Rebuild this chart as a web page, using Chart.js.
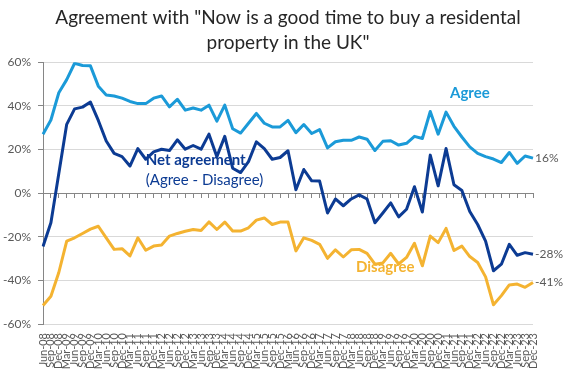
<!DOCTYPE html>
<html>
<head>
<meta charset="utf-8">
<script src="https://cdn.jsdelivr.net/npm/chart.js@4.4.0/dist/chart.umd.min.js"></script>
<style>
  html, body { margin: 0; padding: 0; background: #fff; }
</style>
</head>
<body>
<canvas id="agreementChart" width="563" height="384"></canvas>
<script>
const quarters = [
    'Jun-08', 'Sep-08', 'Dec-08',
    'Mar-09', 'Jun-09', 'Sep-09', 'Dec-09',
    'Mar-10', 'Jun-10', 'Sep-10', 'Dec-10',
    'Mar-11', 'Jun-11', 'Sep-11', 'Dec-11',
    'Mar-12', 'Jun-12', 'Sep-12', 'Dec-12',
    'Mar-13', 'Jun-13', 'Sep-13', 'Dec-13',
    'Mar-14', 'Jun-14', 'Sep-14', 'Dec-14',
    'Mar-15', 'Jun-15', 'Sep-15', 'Dec-15',
    'Mar-16', 'Jun-16', 'Sep-16', 'Dec-16',
    'Mar-17', 'Jun-17', 'Sep-17', 'Dec-17',
    'Mar-18', 'Jun-18', 'Sep-18', 'Dec-18',
    'Mar-19', 'Jun-19', 'Sep-19', 'Dec-19',
    'Mar-20', 'Jun-20', 'Sep-20', 'Dec-20',
    'Mar-21', 'Jun-21', 'Sep-21', 'Dec-21',
    'Mar-22', 'Jun-22', 'Sep-22', 'Dec-22',
    'Mar-23', 'Jun-23', 'Sep-23', 'Dec-23'
];

const agree = [27, 33.5, 46, 52, 59.5, 58.5, 58.3, 49, 45, 44.5,
    43.5, 42, 41, 41, 43.5, 44.5, 39.5, 43, 38, 39,
    38, 40.3, 33, 40.3, 29.5, 27.5, 32, 36.5, 32, 30.3,
    30.3, 33.3, 27.7, 31.4, 27.3, 29.1, 20.7, 23.5, 24.2, 24.2,
    25.7, 24.7, 19.5, 23.7, 24, 22, 22.8, 26, 25, 37.4,
    27, 37.1, 30.6, 25.7, 21.2, 18.2, 16.7, 15.6, 14, 18.6,
    13.6, 17, 16];

const netAgreement = [-24.5, -13.6, 9, 31.5, 38.6, 39.4, 41.7, 33.3, 23.9, 18.2,
    16.7, 12.4, 20.4, 15.5, 18.9, 20.1, 19.5, 24.4, 20.1, 21.8,
    20.1, 27, 16.7, 26, 11.4, 9.4, 14.4, 23.5, 20.4, 15.5,
    16.3, 19.4, 1.5, 10.8, 5.6, 5.5, -9.1, -2.7, -5.8, -2.7,
    -0.8, -2.7, -13.6, -9.1, -4.5, -10.9, -7.4, 2.9, -8.7, 17.4,
    3.3, 20.4, 3.8, 1.2, -8.4, -14.4, -22, -35.6, -32.6, -23.5,
    -28.5, -27.3, -28];

const disagree = [-51.5, -47.3, -36.4, -22, -20.5, -18.5, -16.5, -15.2, -20.5, -25.8,
    -25.5, -28.8, -20.5, -26.2, -24.3, -23.8, -19.7, -18.5, -17.5, -16.7,
    -17.2, -13.2, -16.7, -13.3, -17.4, -17.4, -15.9, -12.4, -11.4, -14.4,
    -13.3, -13.3, -26.5, -20.5, -21.7, -23.5, -29.9, -26, -29.3, -26,
    -25.8, -27.6, -32.6, -32, -27.6, -32.5, -29.5, -23, -33.3, -19.7,
    -22.7, -16.2, -26.3, -24.3, -29.1, -31.8, -38.4, -51.2, -47, -42.1,
    -41.7, -43.2, -41];

const agreeColor = '#1b9ad8';
const netColor = '#0c3b93';
const disagreeColor = '#f4b331';
const axisColor = '#868686';
const gridColor = '#d9d9d9';
const textGrey = '#595959';

// series names written on the plot, plus the last value at the end of each line
const lineNotes = {
    id: 'lineNotes',
    afterDatasetsDraw: (chart) => {
        const ctx = chart.ctx;
        const xs = chart.scales.x;
        const ys = chart.scales.y;
        const put = (text, idx, val, font, color) => {
            ctx.font = font;
            ctx.fillStyle = color;
            ctx.fillText(text, xs.getPixelForValue(idx), ys.getPixelForValue(val));
        };
        ctx.save();
        ctx.textAlign = 'left';
        ctx.textBaseline = 'middle';
        put('Agree', 51.5, 46, 'bold 15px Lato', agreeColor);
        put('Net agreement', 13, 15.2, 'bold 15px Lato', netColor);
        put('(Agree - Disagree)', 13, 5.9, '15px Lato', netColor);
        put('Disagree', 39.6, -33.8, 'bold 15px Lato', disagreeColor);

        chart.data.datasets.forEach((ds, i) => {
            const last = ds.data.length - 1;
            const pt = chart.getDatasetMeta(i).data[last];
            ctx.font = '12px Lato';
            ctx.fillStyle = textGrey;
            ctx.fillText(Math.round(ds.data[last]) + '%', pt.x + 2, pt.y);
        });
        ctx.restore();
    }
};

const drawChart = () => {
    const ctx = document.getElementById('agreementChart').getContext('2d');
    const lineStyle = { borderWidth: 3, pointRadius: 0, tension: 0, fill: false, borderJoinStyle: 'round' };

    new Chart(ctx, {
        type: 'line',
        data: {
            labels: quarters,
            datasets: [
                Object.assign({ label: 'Agree', data: agree, borderColor: agreeColor }, lineStyle),
                Object.assign({ label: 'Net agreement', data: netAgreement, borderColor: netColor }, lineStyle),
                Object.assign({ label: 'Disagree', data: disagree, borderColor: disagreeColor }, lineStyle)
            ]
        },
        options: {
            responsive: false,
            animation: false,
            layout: { padding: { left: 0, right: 30, top: 0, bottom: 0 } },
            plugins: {
                legend: { display: false },
                tooltip: { enabled: false },
                title: {
                    display: true,
                    fullSize: false,
                    text: ['Agreement with "Now is a good time to buy a residental', 'property in the UK"'],
                    color: '#262626',
                    font: { family: 'Lato', size: 19, weight: 'normal', lineHeight: 1.32 },
                    padding: { top: 5, bottom: 7 }
                }
            },
            scales: {
                x: {
                    type: 'category',
                    position: 'bottom',
                    offset: false,
                    grid: { display: false, drawTicks: false },
                    border: { display: false },
                    ticks: {
                        autoSkip: false,
                        minRotation: 90,
                        maxRotation: 90,
                        padding: 9,
                        color: textGrey,
                        font: { family: 'Lato', size: 11 }
                    },
                    afterFit: (s) => { s.height = 60; }
                },
                xZero: {
                    type: 'category',
                    axis: 'x',
                    labels: quarters,
                    position: { y: 0 },
                    offset: false,
                    grid: { drawOnChartArea: false, drawTicks: true, tickLength: 4, color: axisColor },
                    border: { color: axisColor, width: 1 },
                    ticks: { display: false }
                },
                y: {
                    min: -60,
                    max: 60,
                    ticks: {
                        stepSize: 20,
                        padding: 7,
                        color: textGrey,
                        font: { family: 'Lato', size: 12 },
                        callback: (v) => v + '%'
                    },
                    grid: { color: gridColor, tickColor: axisColor, tickLength: 5 },
                    border: { color: axisColor },
                    afterFit: (s) => { s.width = 43; }
                }
            }
        },
        plugins: [lineNotes]
    });
};

window.onload = () => drawChart();
</script>
</body>
</html>
